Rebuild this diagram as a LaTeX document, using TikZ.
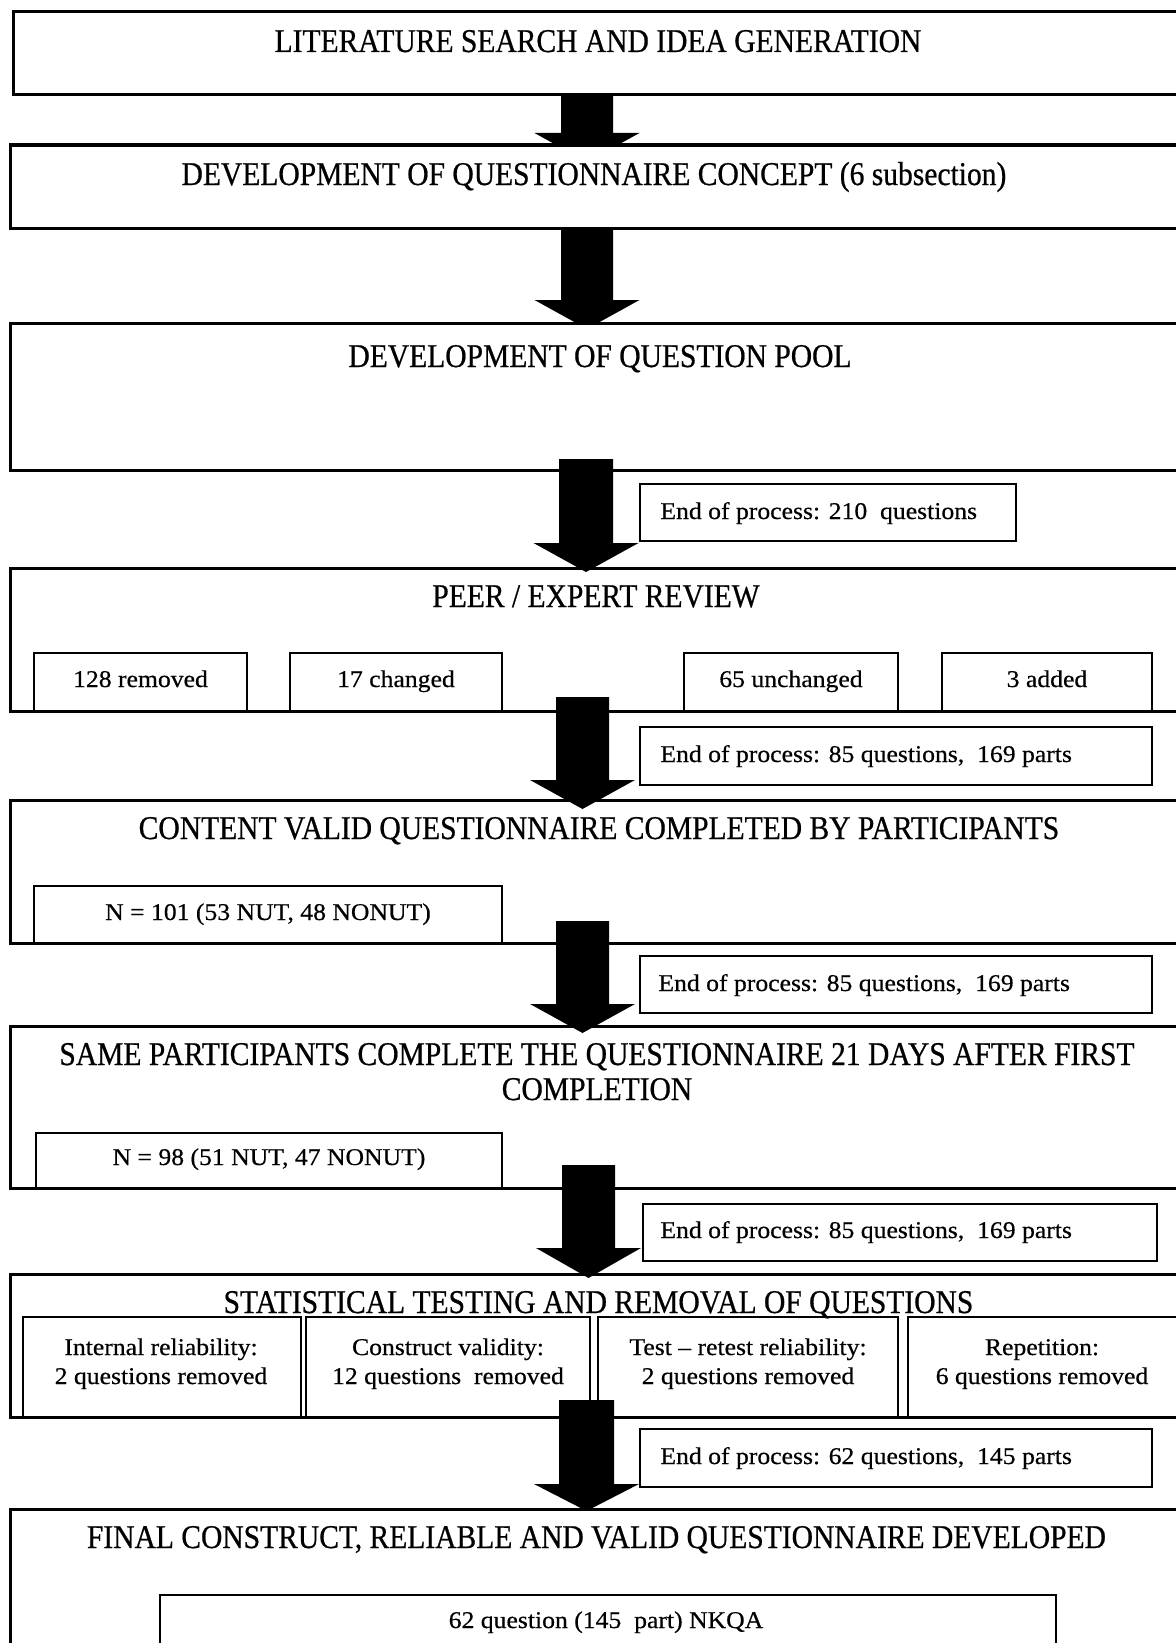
\documentclass[tikz,border=0pt]{standalone}
\usepackage{fontspec}
\setmainfont{Liberation Serif}
\newfontfamily\titlefont[FakeStretch=0.89,FakeBold=0.6]{Liberation Serif}
\newfontfamily\smallfont[FakeStretch=1.07,FakeBold=0.5]{Liberation Serif}
\tikzset{
  mainbox/.style={draw=black, line width=1.5pt, fill=white, inner sep=0pt, outer sep=0pt},
  subbox/.style={draw=black, line width=1.3pt, fill=white, inner sep=0pt, outer sep=0pt},
  endbox/.style={draw=black, line width=1.4pt, fill=white, inner sep=0pt, outer sep=0pt},
  titletext/.style={font=\titlefont\fontsize{16.6}{19}\selectfont, inner sep=0pt, anchor=base},
  smalltext/.style={font=\smallfont\fontsize{12}{14}\selectfont, inner sep=0pt, anchor=base},
  endtext/.style={font=\smallfont\fontsize{12}{14}\selectfont, inner sep=0pt, anchor=base west},
  blockarrow/.style={fill=black, draw=none}
}
% box: name, x, y (top-left, px), width, height, style
\newcommand\pbox[6]{\node[#6, anchor=north west, minimum width=#4*0.5pt, minimum height=#5*0.5pt] (#1) at (#2,#3) {};}
% block arrow: centre x, shaft half width, head half width, top, head base, tip
\newcommand\barrow[6]{\fill[blockarrow] ({#1-#2},#4) -- ({#1+#2},#4) -- ({#1+#2},#5) -- ({#1+#3},#5) -- (#1,#6) -- ({#1-#3},#5) -- ({#1-#2},#5) -- cycle;}
\begin{document}
\begin{tikzpicture}[x=0.5pt, y=-0.5pt]
\useasboundingbox (0,0) rectangle (1176,1643);
\clip (0,0) rectangle (1176,1643);
\fill[white] (0,0) rectangle (1176,1643);

% first two arrows lie under the boxes they point to
\barrow{587}{26}{52.5}{95}{133}{162}
\barrow{587}{26}{52.5}{228}{300}{329}

% main boxes
\pbox{b1}{13.5}{12}{1172.5}{83}{mainbox}
\pbox{b2}{10}{145}{1176}{83}{mainbox}
\pbox{b3}{10}{323}{1176}{147}{mainbox}
\pbox{b4}{10}{568}{1176}{143}{mainbox}
\pbox{b5}{10}{800}{1176}{143}{mainbox}
\pbox{b6}{10}{1026}{1176}{162}{mainbox}
\pbox{b7}{10}{1274}{1176}{143}{mainbox}
\pbox{b8}{10}{1509}{1176}{160}{mainbox}

% sub boxes
\pbox{s41}{34}{653}{213}{58}{subbox}
\pbox{s42}{290}{653}{212}{58}{subbox}
\pbox{s43}{684}{653}{214}{58}{subbox}
\pbox{s44}{942}{653}{210}{58}{subbox}
\pbox{s5}{34}{886}{468}{57}{subbox}
\pbox{s6}{36}{1133}{466}{55}{subbox}
\pbox{s71}{23}{1317}{278}{100}{subbox}
\pbox{s72}{306}{1317}{284}{100}{subbox}
\pbox{s73}{598}{1317}{300}{100}{subbox}
\pbox{s74}{908}{1317}{280}{100}{subbox}
\pbox{s8}{160}{1595}{896}{70}{subbox}

% end-of-process boxes
\pbox{e1}{640}{484}{376}{57}{endbox}
\pbox{e2}{640}{727}{512}{58}{endbox}
\pbox{e3}{640}{956}{512}{57}{endbox}
\pbox{e4}{643}{1204}{514}{57}{endbox}
\pbox{e5}{640}{1429}{512}{58}{endbox}

% arrows drawn over the boxes
\barrow{586}{27}{52.5}{459}{543}{572}
\barrow{582.5}{26.5}{52.5}{697}{780}{809}
\barrow{582.5}{26.5}{52.5}{921}{1004}{1033}
\barrow{588.5}{26.5}{52.5}{1165}{1248}{1278}
\barrow{586.5}{27.5}{52.5}{1400}{1484}{1511}

% titles
\node[titletext] (t1) at (598,52) {LITERATURE SEARCH AND IDEA GENERATION};
\node[titletext] (t2) at (594,185) {DEVELOPMENT OF QUESTIONNAIRE CONCEPT (6 subsection)};
\node[titletext] (t3) at (600,367) {DEVELOPMENT OF QUESTION POOL};
\node[titletext] (t4) at (596,607) {PEER / EXPERT REVIEW};
\node[titletext] (t5) at (599,839) {CONTENT VALID QUESTIONNAIRE COMPLETED BY PARTICIPANTS};
\node[titletext] (t6a) at (597,1065) {SAME PARTICIPANTS COMPLETE THE QUESTIONNAIRE 21 DAYS AFTER FIRST};
\node[titletext] (t6b) at (597,1100) {COMPLETION};
\node[titletext] (t7) at (598.5,1313) {STATISTICAL TESTING AND REMOVAL OF QUESTIONS};
\node[titletext] (t8) at (596.5,1548) {FINAL CONSTRUCT, RELIABLE AND VALID QUESTIONNAIRE DEVELOPED};

% sub box texts
\node[smalltext] (u41) at (s41.center |- 0,687) {128 removed};
\node[smalltext] (u42) at (s42.center |- 0,687) {17 changed};
\node[smalltext] (u43) at (s43.center |- 0,687) {65 unchanged};
\node[smalltext] (u44) at (s44.center |- 0,687) {3 added};
\node[smalltext] (u5) at (s5.center |- 0,920) {N = 101 (53 NUT, 48 NONUT)};
\node[smalltext] (u6) at (s6.center |- 0,1165) {N = 98 (51 NUT, 47 NONUT)};
\node[smalltext] (u71a) at (161,1355) {Internal reliability:};
\node[smalltext] (u71b) at (161,1384) {2 questions removed};
\node[smalltext] (u72a) at (448,1355) {Construct validity:};
\node[smalltext] (u72b) at (448,1384) {12 questions\ \ removed};
\node[smalltext] (u73a) at (748,1355) {Test – retest reliability:};
\node[smalltext] (u73b) at (748,1384) {2 questions removed};
\node[smalltext] (u74a) at (1042,1355) {Repetition:};
\node[smalltext] (u74b) at (1042,1384) {6 questions removed};
\node[smalltext] (u8) at (606,1628) {62 question (145\ \ part) NKQA};

% end-of-process texts
\node[endtext] (x1) at (660,519) {End of process: 210\ \ questions};
\node[endtext] (x2) at (660,762) {End of process: 85 questions,\ \ 169 parts};
\node[endtext] (x3) at (658,991) {End of process: 85 questions,\ \ 169 parts};
\node[endtext] (x4) at (660,1238) {End of process: 85 questions,\ \ 169 parts};
\node[endtext] (x5) at (660,1464) {End of process: 62 questions,\ \ 145 parts};
\end{tikzpicture}
\end{document}
